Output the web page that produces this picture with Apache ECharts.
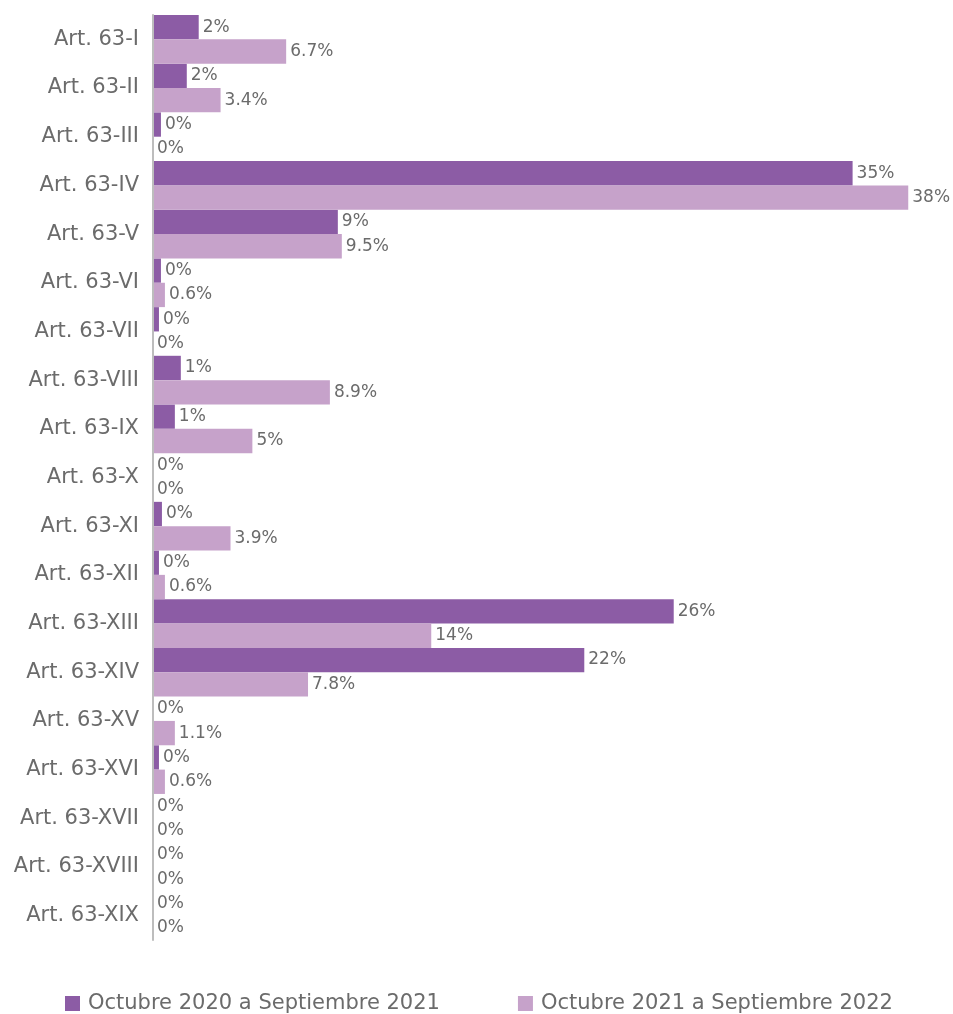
<!DOCTYPE html>
<html><head><meta charset="utf-8">
<script src="https://cdn.jsdelivr.net/npm/echarts@6/dist/echarts.min.js"></script>
<style>html,body{margin:0;padding:0;background:#fff}#c{width:953px;height:1014px}</style>
</head><body><div id="c"></div>
<script>
const categories = ['Art. 63-I','Art. 63-II','Art. 63-III','Art. 63-IV','Art. 63-V','Art. 63-VI','Art. 63-VII','Art. 63-VIII','Art. 63-IX','Art. 63-X','Art. 63-XI','Art. 63-XII','Art. 63-XIII','Art. 63-XIV','Art. 63-XV','Art. 63-XVI','Art. 63-XVII','Art. 63-XVIII','Art. 63-XIX'];
const seriesNames = ['Octubre 2020 a Septiembre 2021','Octubre 2021 a Septiembre 2022'];
const period1 = [2.3, 1.7, 0.4, 35.2, 9.3, 0.4, 0.3, 1.4, 1.1, 0, 0.45, 0.3, 26.2, 21.7, 0, 0.3, 0, 0, 0];
const period2 = [6.7, 3.4, 0, 38, 9.5, 0.6, 0, 8.9, 5, 0, 3.9, 0.6, 14, 7.8, 1.1, 0.6, 0, 0, 0];

const FONT = 'DejaVu Sans';
const TXT = '#6b6b6b';
const chart = echarts.init(document.getElementById('c'), null, {renderer:'canvas'});
chart.setOption({
  animation:false,
  textStyle:{fontFamily:FONT},
  grid:{left:153, right:5, top:15, bottom:74, containLabel:false},
  xAxis:{type:'value', min:0, max:40, show:false},
  yAxis:{type:'category', data:categories, inverse:true, z:3,
    axisLine:{show:true, lineStyle:{color:'#bdbdbd', width:2}},
    axisTick:{show:false},
    axisLabel:{color:TXT, fontSize:21, margin:14, fontFamily:FONT}
  },
  legend:{top:988, left:60, itemGap:78, itemWidth:15, itemHeight:15,
    textStyle:{color:TXT, fontSize:21, fontFamily:FONT, padding:[0,0,0,3]}, icon:'rect',
    data:seriesNames},
  series:[
    {name:seriesNames[0], type:'bar', data:period1, barGap:'0%', barCategoryGap:'0%',
     itemStyle:{color:'#8c5ca5'},
     label:{show:true, position:'right', distance:4, color:TXT, fontSize:17, fontFamily:FONT,
       formatter:p=>Math.round(p.value)+'%'}},
    {name:seriesNames[1], type:'bar', data:period2, barGap:'0%', barCategoryGap:'0%',
     itemStyle:{color:'#c6a2ca'},
     label:{show:true, position:'right', distance:4, color:TXT, fontSize:17, fontFamily:FONT,
       formatter:p=>p.value+'%'}}
  ]
});
</script></body></html>
